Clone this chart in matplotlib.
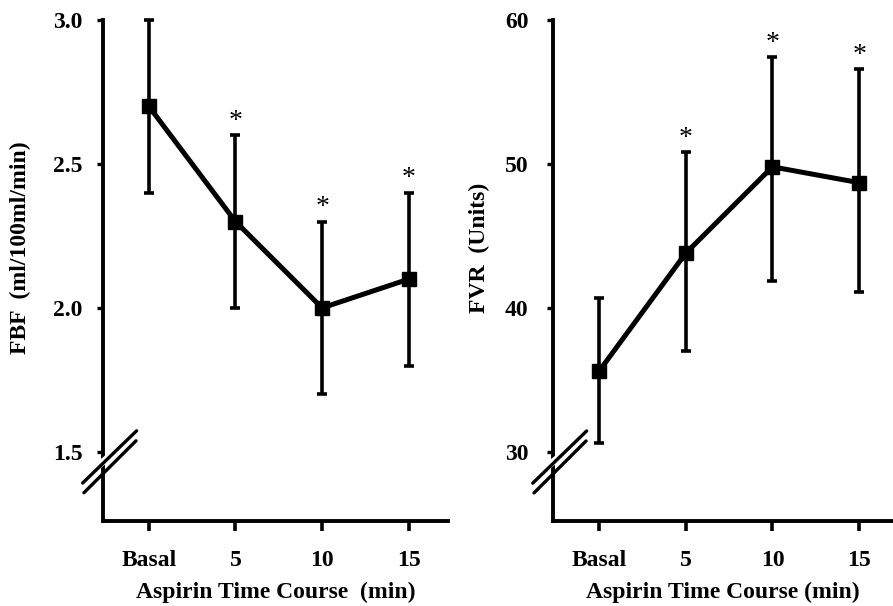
import matplotlib
matplotlib.use("Agg")
import matplotlib.pyplot as plt
from matplotlib.transforms import Affine2D

# data
categories = ["Basal", "5", "10", "15"]

fbf_mean = [2.70, 2.30, 2.00, 2.10]
fbf_low = [2.40, 2.00, 1.70, 1.80]
fbf_high = [3.00, 2.60, 2.30, 2.40]
fbf_sig = [False, True, True, True]
fbf_ticks = [1.5, 2.0, 2.5, 3.0]
fbf_ticklabels = ["1.5", "2.0", "2.5", "3.0"]

fvr_mean = [35.6, 43.8, 49.8, 48.7]
fvr_low = [30.6, 37.0, 41.9, 41.1]
fvr_high = [40.7, 50.8, 57.4, 56.6]
fvr_sig = [False, True, True, True]
fvr_ticks = [30, 40, 50, 60]
fvr_ticklabels = ["30", "40", "50", "60"]

plt.rcParams["font.family"] = ["Liberation Serif", "DejaVu Serif"]
plt.rcParams["font.weight"] = "bold"

fig = plt.figure(figsize=(8.93, 6.06), dpi=100)


def draw_break(ax, yval):
    # two slashes across the y axis, offsets in points from the axis point
    x0, y0 = ax.get_yaxis_transform().transform((0, yval))
    tr = Affine2D().scale(fig.dpi / 72.0).translate(x0, y0)
    ax.plot([-14, 24], [-15, 16], color="white", lw=5, transform=tr,
            clip_on=False, zorder=5, solid_capstyle="butt")
    ax.plot([-14.6, 24.2], [-18.9, 18.7], color="black", lw=2.4, transform=tr,
            clip_on=False, zorder=6, solid_capstyle="round")
    ax.plot([-13.7, 23.8], [-25.9, 11.5], color="black", lw=2.4, transform=tr,
            clip_on=False, zorder=6, solid_capstyle="round")


def make_panel(rect, mean, low, high, sig, ylim, ticks, ticklabels, ylabel,
               xlabel, ylabel_x, ytick_pad, xlim_right, brk):
    ax = fig.add_axes(rect)
    x = list(range(len(categories)))
    yerr = [[m - lo for m, lo in zip(mean, low)], [hi - m for m, hi in zip(mean, high)]]
    ax.errorbar(x, mean, yerr=yerr, fmt="none", ecolor="black", elinewidth=2.6,
                capsize=3.4, capthick=2.6, clip_on=False, zorder=3)
    ax.plot(x, mean, color="black", lw=3.6, marker="s", markersize=10,
            clip_on=False, zorder=4)
    for xi, hi, s in zip(x, high, sig):
        if s:
            ax.annotate("*", (xi, hi), xytext=(0, 1), textcoords="offset points",
                        ha="center", va="bottom", fontsize=20, fontweight="normal")

    ax.set_xlim(-0.53, xlim_right)
    ax.set_ylim(*ylim)
    ax.set_xticks(x)
    ax.set_xticklabels(categories, fontsize=17, fontweight="bold")
    ax.set_yticks(ticks)
    ax.set_yticklabels(ticklabels, fontsize=17, fontweight="bold")
    ax.tick_params(axis="x", direction="out", length=7, width=2.6, pad=14)
    ax.tick_params(axis="y", direction="out", length=4, width=2.4, pad=ytick_pad)

    for side in ["top", "right"]:
        ax.spines[side].set_visible(False)
    for side in ["left", "bottom"]:
        ax.spines[side].set_linewidth(2.8)
    ax.spines["left"].set_bounds(ylim[0], ticks[-1])

    ax.set_ylabel(ylabel, fontsize=17, fontweight="bold")
    ax.yaxis.set_label_coords(ylabel_x, 0.545)
    ax.set_xlabel(xlabel, fontsize=17, fontweight="bold")
    ax.xaxis.set_label_coords(0.5, -0.122)
    draw_break(ax, brk)
    return ax


make_panel([0.1153, 0.1403, 0.386, 0.8267], fbf_mean, fbf_low, fbf_high, fbf_sig,
           (1.26, 3.0), fbf_ticks, fbf_ticklabels, "FBF  (ml/100ml/min)",
           "Aspirin Time Course  (min)", -0.21, 10.5, 3.45, 1.483)
make_panel([0.6193, 0.1403, 0.3807, 0.8267], fvr_mean, fvr_low, fvr_high, fvr_sig,
           (25.2, 60), fvr_ticks, fvr_ticklabels, "FVR  (Units)",
           "Aspirin Time Course (min)", -0.185, 13.5, 3.39, 29.65)

fig.savefig("out.png", dpi=100)
